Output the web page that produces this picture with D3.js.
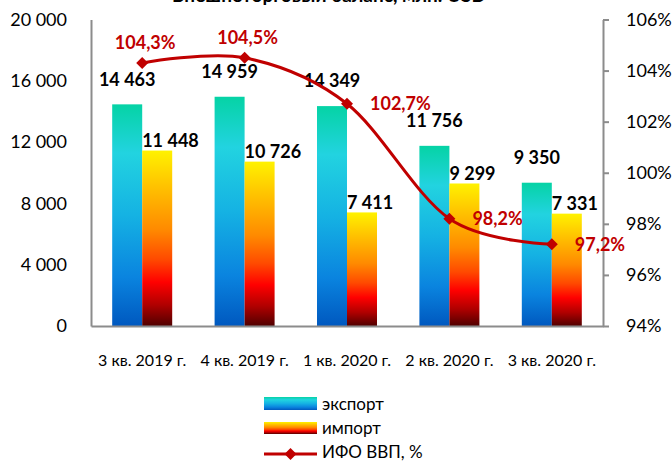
<!DOCTYPE html>
<html>
<head>
<meta charset="utf-8">
<script src="https://cdn.jsdelivr.net/npm/d3@7"></script>
<style>
  html, body { margin: 0; padding: 0; background: #fff; }
  svg { display: block; font-family: Lato, "Open Sans", sans-serif; }
</style>
</head>
<body>
<svg id="chart" width="672" height="461"></svg>
<script>
const title = "Внешнеторговый баланс, млн. USD";
const categories = ["3 кв. 2019 г.", "4 кв. 2019 г.", "1 кв. 2020 г.", "2 кв. 2020 г.", "3 кв. 2020 г."];
const exportValues = [14463, 14959, 14349, 11756, 9350];
const importValues = [11448, 10726, 7411, 9299, 7331];
const ifoValues = [104.3, 104.5, 102.7, 98.2, 97.2];
const leftTicks = [0, 4000, 8000, 12000, 16000, 20000];
const rightTicks = [94, 96, 98, 100, 102, 104, 106];
const seriesNames = ["экспорт", "импорт", "ИФО ВВП, %"];

const svg = d3.select("#chart");
const plotL = 91, plotR = 603, plotT = 19.5, plotB = 326;

const defs = svg.append("defs");
function grad(id, stops) {
  const g = defs.append("linearGradient").attr("id", id)
    .attr("x1", 0).attr("y1", 0).attr("x2", 0).attr("y2", 1);
  stops.forEach(s => g.append("stop").attr("offset", s[0]).attr("stop-color", s[1]));
}
grad("gExp", [[0, "#05d3a5"], [0.22, "#22d3e0"], [0.5, "#15b2e3"], [0.78, "#0a84df"], [1, "#0058bf"]]);
grad("gImp", [[0, "#fff200"], [0.2, "#ffc300"], [0.45, "#ff8a00"], [0.62, "#ff4a00"], [0.75, "#ff0000"], [0.88, "#b00000"], [1, "#500000"]]);

const x0 = d3.scaleBand().domain(categories).range([plotL, plotR]).paddingInner(0.4141).paddingOuter(0.207);
const x1 = d3.scaleBand().domain(["exp", "imp"]).range([0, x0.bandwidth()]);
const y = d3.scaleLinear().domain([0, 20000]).range([plotB, plotT]);
const yR = d3.scaleLinear().domain([94, 106]).range([plotB, plotT]);

const fmt = v => d3.format(",")(v).replace(/,/g, " ");
const axisColor = "#8c8c8c";

// Title (cut at top)
svg.append("text").attr("x", 329).attr("y", 2).attr("text-anchor", "middle")
  .attr("font-weight", "bold").attr("font-size", 19).attr("fill", "#000").text(title);

// Bars
const groups = svg.append("g").selectAll("g").data(categories).join("g")
  .attr("transform", d => `translate(${x0(d)},0)`);
groups.append("rect")
  .attr("x", x1("exp")).attr("width", x1.bandwidth())
  .attr("y", (d, i) => y(exportValues[i])).attr("height", (d, i) => y(0) - y(exportValues[i]))
  .attr("fill", "url(#gExp)");
groups.append("rect")
  .attr("x", x1("imp")).attr("width", x1.bandwidth())
  .attr("y", (d, i) => y(importValues[i])).attr("height", (d, i) => y(0) - y(importValues[i]))
  .attr("fill", "url(#gImp)");

// Axes
const leftAxis = svg.append("g").attr("transform", `translate(${plotL},0)`)
  .call(d3.axisLeft(y).tickValues(leftTicks).tickSize(0).tickPadding(24).tickFormat(fmt));
const rightAxis = svg.append("g").attr("transform", `translate(${plotR},0)`)
  .call(d3.axisRight(yR).tickValues(rightTicks).tickSize(6).tickSizeOuter(0).tickPadding(17).tickFormat(d => d + "%"));
const bottomAxis = svg.append("g").attr("transform", `translate(0,${plotB})`)
  .call(d3.axisBottom(x0).tickSize(0).tickSizeOuter(0).tickPadding(29));
[leftAxis, rightAxis, bottomAxis].forEach(a => {
  a.select(".domain").attr("stroke", axisColor).attr("stroke-width", 2);
  a.selectAll(".tick line").attr("stroke", axisColor).attr("stroke-width", 2);
  a.selectAll("text").attr("fill", "#000").attr("font-family", "Lato, sans-serif");
});
leftAxis.selectAll("text").attr("font-size", 18);
rightAxis.selectAll("text").attr("font-size", 18);
bottomAxis.selectAll("text").attr("font-size", 16);

// Bar labels
groups.append("text")
  .attr("x", x1("exp") + x1.bandwidth() / 2)
  .attr("y", (d, i) => y(exportValues[i]) - 25).attr("dy", "0.35em")
  .attr("text-anchor", "middle").attr("font-weight", "bold").attr("font-size", 18)
  .text((d, i) => fmt(exportValues[i]));
groups.append("text")
  .attr("x", x1("imp"))
  .attr("y", (d, i) => y(importValues[i]) - 10).attr("dy", "0.35em")
  .attr("text-anchor", "start").attr("font-weight", "bold").attr("font-size", 18)
  .text((d, i) => fmt(importValues[i]));

// Line
const red = "#c00000";
const cx = d => x0(d) + x0.bandwidth() / 2;
const line = d3.line().x((d, i) => cx(categories[i])).y(d => yR(d)).curve(d3.curveCardinal.tension(0));
svg.append("path").datum(ifoValues).attr("d", line)
  .attr("fill", "none").attr("stroke", red).attr("stroke-width", 3);
const diamond = d3.symbol(d3.symbolSquare, 72);
svg.append("g").selectAll("path").data(ifoValues).join("path")
  .attr("d", diamond)
  .attr("transform", (d, i) => `translate(${cx(categories[i])},${yR(d)}) rotate(45)`)
  .attr("fill", red);
svg.append("g").selectAll("text").data(ifoValues).join("text")
  .attr("x", (d, i) => i < 2 ? cx(categories[i]) + 3 : cx(categories[i]) + 23)
  .attr("y", (d, i) => i < 2 ? yR(d) - 20 : yR(d)).attr("dy", "0.35em")
  .attr("text-anchor", (d, i) => i < 2 ? "middle" : "start")
  .attr("font-weight", "bold").attr("font-size", 18).attr("fill", red)
  .text(d => d3.format(".1f")(d).replace(".", ",") + "%");

// Legend
const lg = svg.append("g");
const lx = 264, lw = 53, tx = 322;
lg.append("rect").attr("x", lx).attr("y", 397).attr("width", lw).attr("height", 13).attr("fill", "url(#gExp)");
lg.append("rect").attr("x", lx).attr("y", 422).attr("width", lw).attr("height", 12).attr("fill", "url(#gImp)");
lg.append("line").attr("x1", lx).attr("x2", lx + lw).attr("y1", 454).attr("y2", 454).attr("stroke", red).attr("stroke-width", 3);
lg.append("path").attr("d", diamond).attr("transform", `translate(${lx + lw / 2},454) rotate(45)`).attr("fill", red);
[404, 428, 452].forEach((yy, i) => {
  lg.append("text").attr("x", tx).attr("y", yy).attr("dy", "0.35em")
    .attr("font-size", 17).attr("fill", "#000").text(seriesNames[i]);
});
</script>
</body>
</html>
